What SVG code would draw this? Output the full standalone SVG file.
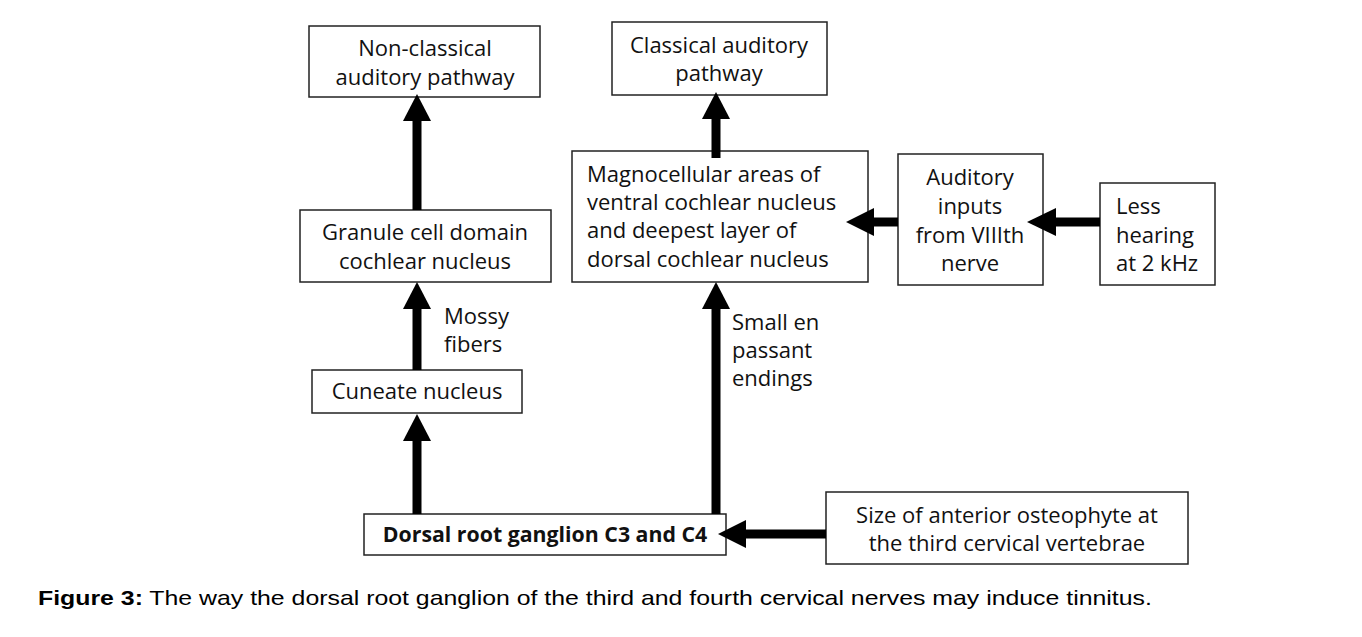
<svg xmlns="http://www.w3.org/2000/svg" width="1362" height="637" viewBox="0 0 1362 637">
<style>
.box{fill:#fff;stroke:#222;stroke-width:1.5}
.t{font-family:"Open Sans",Lato,sans-serif;font-size:22px;fill:#111}
.c{text-anchor:middle}
.b{font-weight:bold;font-size:21.3px}
.shaft{stroke:#000;stroke-width:9;fill:none}
.head{fill:#000}
.cap{font-family:"Liberation Sans",Arial,sans-serif;font-size:20.5px;fill:#000}
</style>
<rect width="1362" height="637" fill="#fff"/>
<g id="node-nonclassical">
  <rect class="box" x="309" y="26" width="231" height="71"/>
  <text class="t c" x="425" y="56">Non-classical</text>
  <text class="t c" x="425" y="85">auditory pathway</text>
</g>
<g id="node-classical">
  <rect class="box" x="612" y="22" width="215" height="73"/>
  <text class="t c" x="719" y="53">Classical auditory</text>
  <text class="t c" x="719" y="81">pathway</text>
</g>
<g id="node-granule">
  <rect class="box" x="300" y="210" width="251" height="72"/>
  <text class="t c" x="425" y="240">Granule cell domain</text>
  <text class="t c" x="425" y="268.5">cochlear nucleus</text>
</g>
<g id="node-magnocellular">
  <rect class="box" x="572" y="151" width="296" height="131"/>
  <text class="t" x="587" y="182">Magnocellular areas of</text>
  <text class="t" x="587" y="210">ventral cochlear nucleus</text>
  <text class="t" x="587" y="238">and deepest layer of</text>
  <text class="t" x="587" y="267">dorsal cochlear nucleus</text>
</g>
<g id="node-auditory">
  <rect class="box" x="898" y="154" width="145" height="131"/>
  <text class="t c" x="970" y="185">Auditory</text>
  <text class="t c" x="970" y="214">inputs</text>
  <text class="t c" x="970" y="243">from VIIIth</text>
  <text class="t c" x="970" y="271">nerve</text>
</g>
<g id="node-lesshearing">
  <rect class="box" x="1100" y="183" width="115" height="102"/>
  <text class="t" x="1116" y="214">Less</text>
  <text class="t" x="1116" y="243">hearing</text>
  <text class="t" x="1116" y="271">at 2 kHz</text>
</g>
<g id="node-cuneate">
  <rect class="box" x="312" y="370" width="210" height="43"/>
  <text class="t c" x="417" y="399">Cuneate nucleus</text>
</g>
<g id="node-dorsal">
  <rect class="box" x="364" y="514" width="362" height="41"/>
  <text class="t c b" x="545" y="542">Dorsal root ganglion C3 and C4</text>
</g>
<g id="node-size">
  <rect class="box" x="826" y="492" width="362" height="72"/>
  <text class="t c" x="1007" y="523">Size of anterior osteophyte at</text>
  <text class="t c" x="1007" y="551">the third cervical vertebrae</text>
</g>
<g id="connectors">
  <!-- Granule -> Non-classical -->
  <line class="shaft" x1="417" y1="210" x2="417" y2="118"/>
  <polygon class="head" points="417,94 403,121 431,121"/>
  <!-- Cuneate -> Granule -->
  <line class="shaft" x1="417" y1="370" x2="417" y2="306"/>
  <polygon class="head" points="417,282 403,309 431,309"/>
  <!-- Dorsal -> Cuneate -->
  <line class="shaft" x1="417" y1="514" x2="417" y2="438"/>
  <polygon class="head" points="417,414 403,441 431,441"/>
  <!-- Dorsal -> Magnocellular -->
  <line class="shaft" x1="716" y1="514" x2="716" y2="306"/>
  <polygon class="head" points="716,282 702,309 730,309"/>
  <!-- Magnocellular -> Classical -->
  <line class="shaft" x1="716" y1="158" x2="716" y2="116"/>
  <polygon class="head" points="716,92 702,119 730,119"/>
  <!-- Auditory -> Magnocellular -->
  <line class="shaft" x1="898" y1="222" x2="870" y2="222"/>
  <polygon class="head" points="846,222 874,208 874,236"/>
  <!-- Less hearing -> Auditory -->
  <line class="shaft" x1="1100" y1="222" x2="1052" y2="222"/>
  <polygon class="head" points="1027,222 1056,208 1056,236"/>
  <!-- Size -> Dorsal -->
  <line class="shaft" x1="826" y1="534" x2="742" y2="534"/>
  <polygon class="head" points="718,534 746,520 746,548"/>
</g>
<g id="labels">
  <text class="t" x="444" y="324">Mossy</text>
  <text class="t" x="444" y="352">fibers</text>
  <text class="t" x="732" y="330">Small en</text>
  <text class="t" x="732" y="358">passant</text>
  <text class="t" x="732" y="386">endings</text>
</g>
<text class="cap" transform="translate(38,605) scale(1.213,1)" x="0" y="0"><tspan font-weight="bold">Figure 3:</tspan> The way the dorsal root ganglion of the third and fourth cervical nerves may induce tinnitus.</text>
</svg>
